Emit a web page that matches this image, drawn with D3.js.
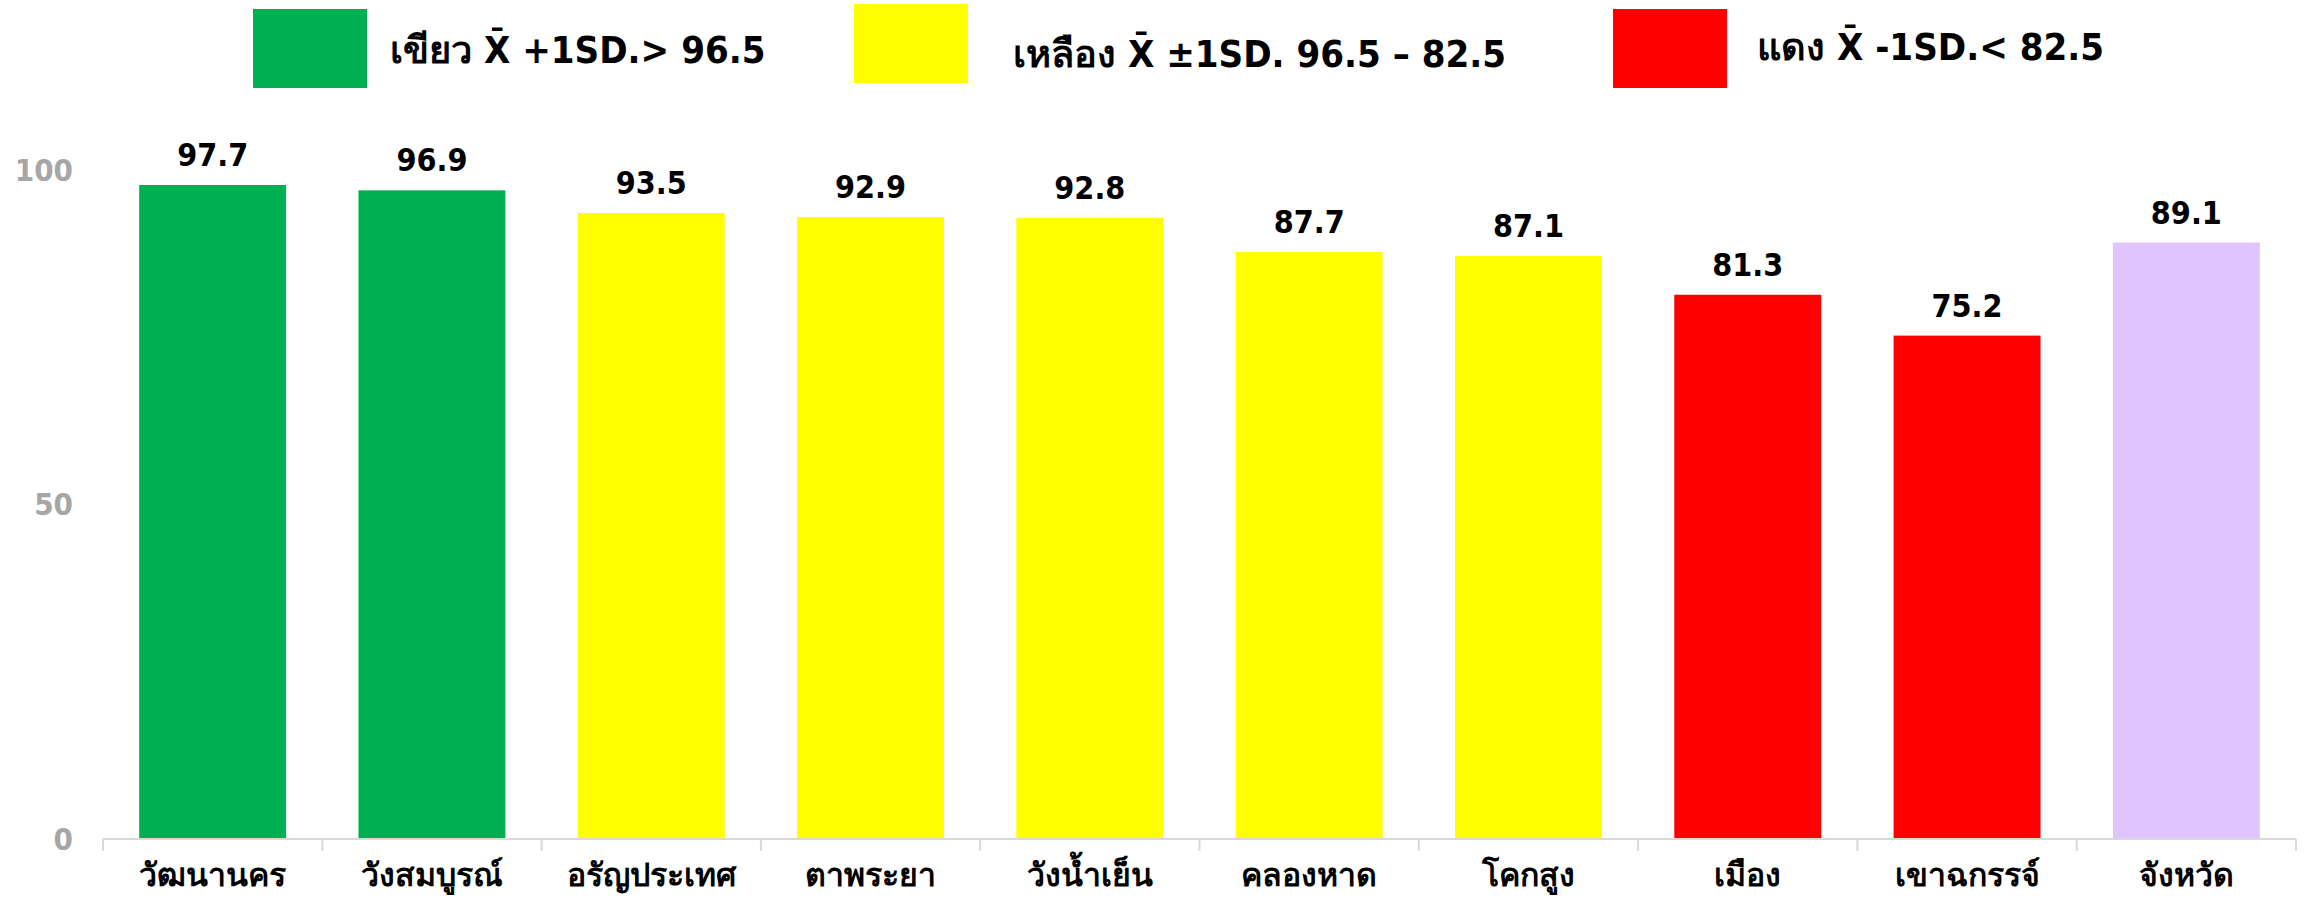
<!DOCTYPE html>
<html><head><meta charset="utf-8">
<script src="https://cdn.jsdelivr.net/npm/d3@7"></script>
<style>
html,body{margin:0;padding:0;background:#fff;}
svg text{font-family:'DejaVu Sans Condensed','DejaVu Sans',sans-serif;font-stretch:condensed;font-weight:bold;}
</style></head>
<body>
<svg id="chart" width="2310" height="898"></svg>
<script>
const categories = ["วัฒนานคร","วังสมบูรณ์","อรัญประเทศ","ตาพระยา","วังน้ำเย็น","คลองหาด","โคกสูง","เมือง","เขาฉกรรจ์","จังหวัด"];
const values = [97.7, 96.9, 93.5, 92.9, 92.8, 87.7, 87.1, 81.3, 75.2, 89.1];
const barColors = ["#00B050","#00B050","#FFFF00","#FFFF00","#FFFF00","#FFFF00","#FFFF00","#FF0000","#FF0000","#DFC4FD"];
const yTicks = [0, 50, 100];
const legendLabels = ["เขียว X̄ +1SD.> 96.5","เหลือง X̄ ±1SD. 96.5 – 82.5","แดง X̄ -1SD.< 82.5"];
const legendColors = ["#00B050","#FFFF00","#FF0000"];

const svg = d3.select("#chart");
const x = d3.scaleBand().domain(categories).range([103, 2296]).paddingInner(0.33).paddingOuter(0.165);
const y = d3.scaleLinear().domain([0, 100]).range([839, 169.6]);

// bars
svg.selectAll("rect.bar").data(values).join("rect")
  .attr("class","bar")
  .attr("x",(d,i)=>x(categories[i]))
  .attr("width",x.bandwidth())
  .attr("y",d=>y(d))
  .attr("height",d=>y(0)-y(d))
  .attr("fill",(d,i)=>barColors[i]);

// value labels
svg.selectAll("text.val").data(values).join("text")
  .attr("class","val")
  .attr("x",(d,i)=>x(categories[i])+x.bandwidth()/2)
  .attr("y",d=>y(d)-19)
  .attr("text-anchor","middle")
  .attr("font-size",32)
  .attr("fill","#000")
  .text(d=>d.toFixed(1));

// x axis line and ticks
const step = x.step();
const x0 = x.range()[0], x1 = x.range()[1];
svg.append("line").attr("x1",x0).attr("x2",x1).attr("y1",y(0)).attr("y2",y(0))
  .attr("stroke","#D9D9D9").attr("stroke-width",2);
d3.range(categories.length+1).forEach(i=>{
  const xx = x0 + i*step;
  svg.append("line").attr("x1",xx).attr("x2",xx).attr("y1",y(0)).attr("y2",y(0)+12)
    .attr("stroke","#D9D9D9").attr("stroke-width",2);
});

// category labels
svg.selectAll("text.cat").data(categories).join("text")
  .attr("class","cat")
  .attr("x",d=>x(d)+x.bandwidth()/2)
  .attr("y",886)
  .attr("text-anchor","middle")
  .attr("font-size",32)
  .attr("fill","#000")
  .text(d=>d);

// y axis labels
svg.selectAll("text.ytick").data(yTicks).join("text")
  .attr("class","ytick")
  .attr("x",73)
  .attr("y",d=>y(d)+11)
  .attr("text-anchor","end")
  .attr("font-size",31)
  .attr("fill","#A6A6A6")
  .text(d=>d);

// legend
const legRects = [[253,9],[854,4],[1613,9]];
const legText = [[390,63],[1013,67],[1757,60]];
legendColors.forEach((c,i)=>{
  svg.append("rect").attr("x",legRects[i][0]).attr("y",legRects[i][1])
    .attr("width",114).attr("height",79).attr("fill",c);
  svg.append("text").attr("x",legText[i][0]).attr("y",legText[i][1])
    .attr("font-size",38).attr("fill","#000").text(legendLabels[i]);
});
</script>
</body></html>
